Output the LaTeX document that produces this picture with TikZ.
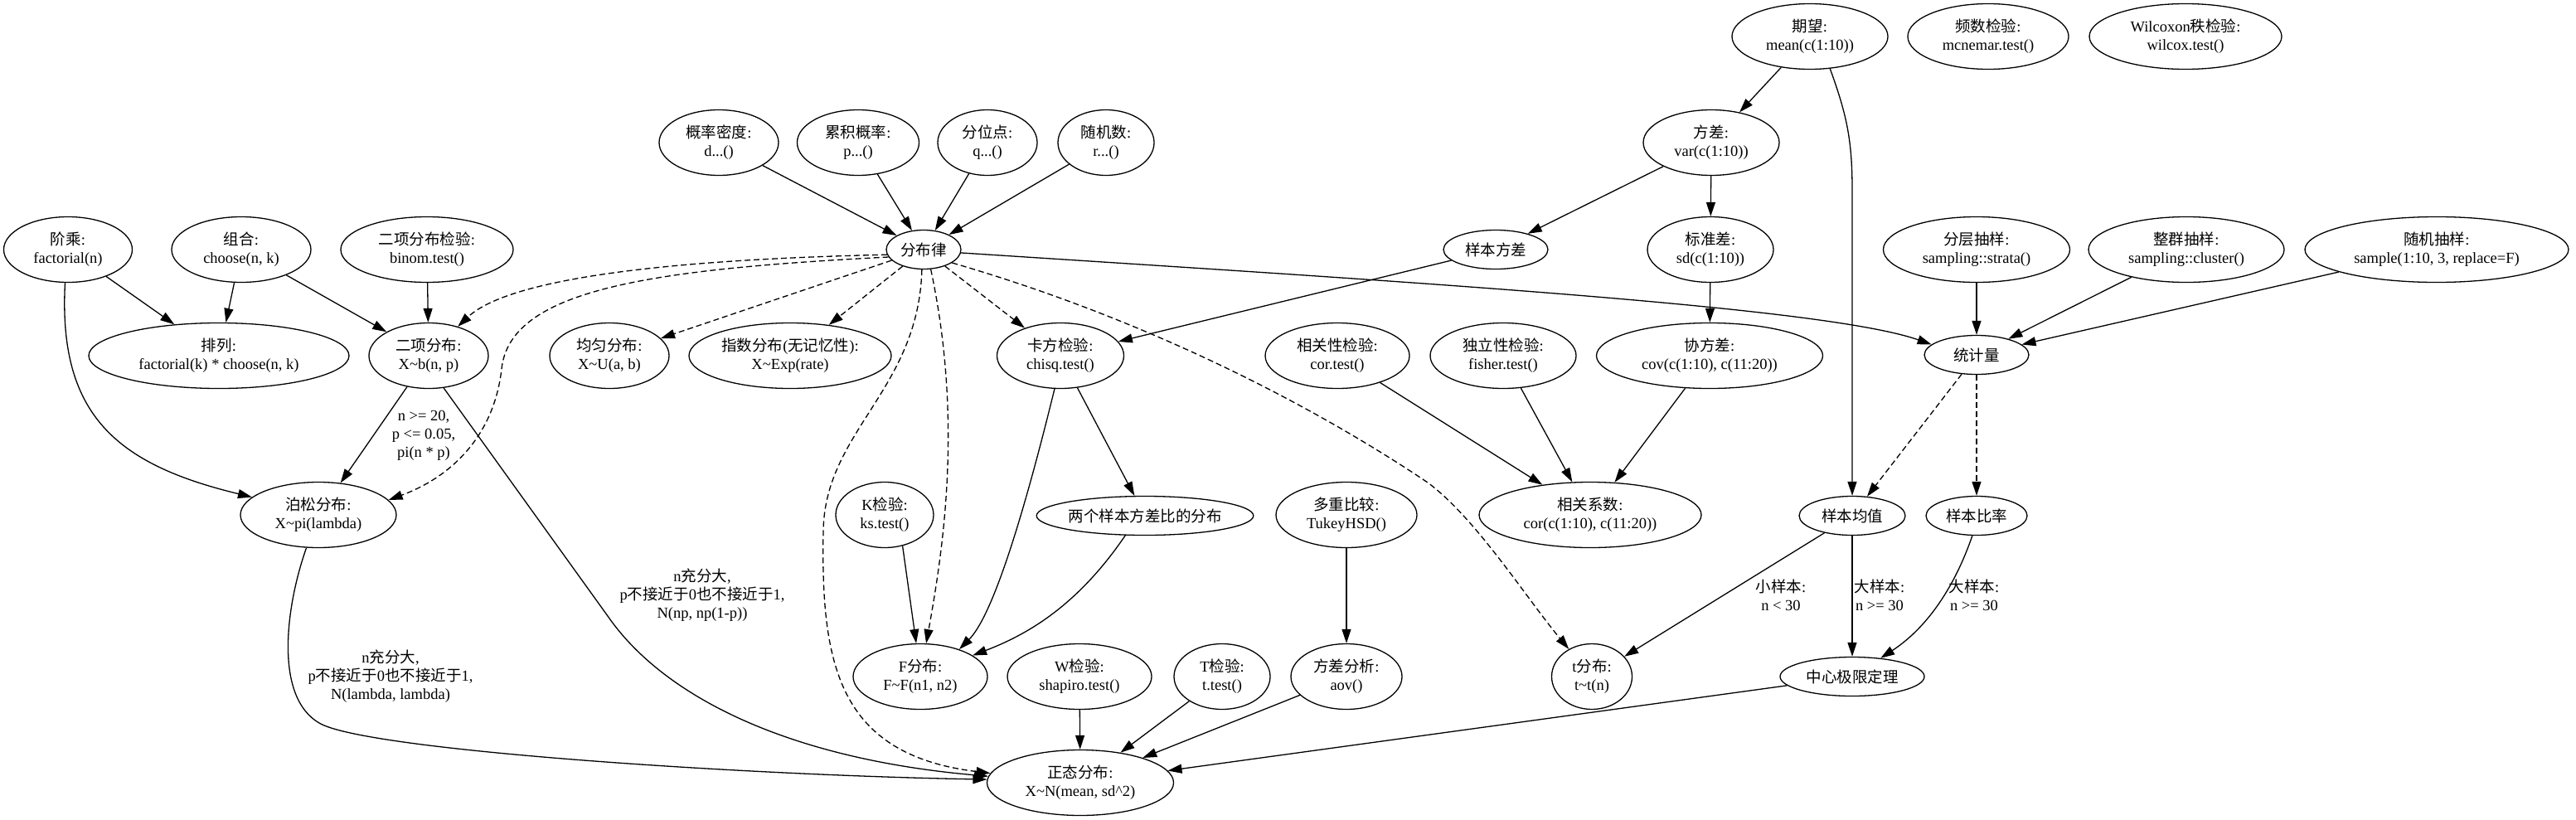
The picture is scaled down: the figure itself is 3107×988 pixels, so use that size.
\documentclass[tikz,border=0pt]{standalone}
\usepackage{fontspec}
\setmainfont{Liberation Serif}
\newfontfamily\zhfont{Noto Sans CJK SC}
\newcommand\zhtxt[1]{{\zhfont #1}}
\newcommand\tld{\char"7E\relax}
\usetikzlibrary{shapes.geometric,arrows.meta}
\tikzset{
  nd/.style={draw, ellipse, inner sep=0pt, align=center, line width=1.3pt},
  e2/.style={nd, minimum height=79pt},
  e1/.style={nd, minimum height=47pt},
  lbl/.style={align=center, inner sep=0pt},
  ar/.style={-{Triangle[length=17pt,width=11pt]}, line width=1.3pt},
  da/.style={ar, dash pattern=on 7pt off 4pt},
}
\begin{document}
\begin{tikzpicture}[x=1pt,y=-1pt,font=\fontsize{18.5}{22}\selectfont]
\fill[white] (0,0) rectangle (3107,988);
\useasboundingbox (0,0) rectangle (3107,988);
% nodes
\node[e2,minimum width=155pt] (jc) at (82,301) {\zhtxt{阶乘}:\\factorial(n)};
\node[e2,minimum width=168pt] (zu) at (291,301) {\zhtxt{组合}:\\choose(n, k)};
\node[e2,minimum width=208pt] (bt) at (515,301) {\zhtxt{二项分布检验}:\\binom.test()};
\node[e2,minimum width=314pt] (pl) at (264,429) {\zhtxt{排列}:\\factorial(k) * choose(n, k)};
\node[e2,minimum width=144pt] (bn) at (517,429) {\zhtxt{二项分布}:\\X\tld b(n, p)};
\node[e2,minimum width=144pt] (un) at (735,429) {\zhtxt{均匀分布}:\\X\tld U(a, b)};
\node[e2,minimum width=244pt] (ex) at (953,429) {\zhtxt{指数分布}(\zhtxt{无记忆性}):\\X\tld Exp(rate)};
\node[e2,minimum width=153pt] (cs) at (1279,429) {\zhtxt{卡方检验}:\\chisq.test()};
\node[e2,minimum width=144pt] (pd) at (867,172) {\zhtxt{概率密度}:\\d...()};
\node[e2,minimum width=147pt] (cp) at (1035,172) {\zhtxt{累积概率}:\\p...()};
\node[e2,minimum width=120pt] (qt) at (1191,172) {\zhtxt{分位点}:\\q...()};
\node[e2,minimum width=116pt] (rn) at (1334,172) {\zhtxt{随机数}:\\r...()};
\node[e1,minimum width=90pt] (fb) at (1114,301) {\zhtxt{分布律}};
\node[e2,minimum width=188pt] (ps) at (384,621) {\zhtxt{泊松分布}:\\X\tld pi(lambda)};
\node[e2,minimum width=118pt] (ks) at (1067,621) {K\zhtxt{检验}:\\ks.test()};
\node[e1,minimum width=260pt] (vr) at (1381,622) {\zhtxt{两个样本方差比的分布}};
\node[e2,minimum width=162pt] (ff) at (1110,816) {F\zhtxt{分布}:\\F\tld F(n1, n2)};
\node[e2,minimum width=174pt] (wt) at (1302,816) {W\zhtxt{检验}:\\shapiro.test()};
\node[e2,minimum width=116pt] (tt) at (1474,816) {T\zhtxt{检验}:\\t.test()};
\node[e2,minimum width=225pt] (nm) at (1303,944) {\zhtxt{正态分布}:\\X\tld N(mean, sd\char"5E\relax 2)};
\node[e2,minimum width=188pt] (ev) at (2183,44) {\zhtxt{期望}:\\mean(c(1:10))};
\node[e2,minimum width=194pt] (mc) at (2398,44) {\zhtxt{频数检验}:\\mcnemar.test()};
\node[e2,minimum width=232pt] (wc) at (2636,44) {Wilcoxon\zhtxt{秩检验}:\\wilcox.test()};
\node[e2,minimum width=164pt] (va) at (2064,172) {\zhtxt{方差}:\\var(c(1:10))};
\node[e1,minimum width=126pt] (sv) at (1804,301) {\zhtxt{样本方差}};
\node[e2,minimum width=152pt] (sd) at (2063,301) {\zhtxt{标准差}:\\sd(c(1:10))};
\node[e2,minimum width=225pt] (st) at (2384,301) {\zhtxt{分层抽样}:\\sampling::strata()};
\node[e2,minimum width=236pt] (cl) at (2637,301) {\zhtxt{整群抽样}:\\sampling::cluster()};
\node[e2,minimum width=318pt] (rs) at (2939,301) {\zhtxt{随机抽样}:\\sample(1:10, 3, replace=F)};
\node[e2,minimum width=174pt] (ct) at (1613,429) {\zhtxt{相关性检验}:\\cor.test()};
\node[e2,minimum width=176pt] (it) at (1813,429) {\zhtxt{独立性检验}:\\fisher.test()};
\node[e2,minimum width=273pt] (cv) at (2062,429) {\zhtxt{协方差}:\\cov(c(1:10), c(11:20))};
\node[e1,minimum width=126pt] (sq) at (2384,428) {\zhtxt{统计量}};
\node[e2,minimum width=170pt] (mu) at (1624,621) {\zhtxt{多重比较}:\\TukeyHSD()};
\node[e2,minimum width=268pt] (cc) at (1918,621) {\zhtxt{相关系数}:\\cor(c(1:10), c(11:20))};
\node[e1,minimum width=128pt] (sm) at (2234,622) {\zhtxt{样本均值}};
\node[e1,minimum width=122pt] (sr) at (2384,622) {\zhtxt{样本比率}};
\node[e2,minimum width=134pt] (av) at (1624,816) {\zhtxt{方差分析}:\\aov()};
\node[e2,minimum width=97pt] (td) at (1920,816) {t\zhtxt{分布}:\\t\tld t(n)};
\node[e1,minimum width=174pt] (lt) at (2234,816) {\zhtxt{中心极限定理}};
% edge labels
\node[lbl] (l1) at (511,525) {n >= 20,\\p <= 0.05,\\pi(n * p)};
\node[lbl] (l2) at (847,718) {n\zhtxt{充分大},\\p\zhtxt{不接近于}0\zhtxt{也不接近于}1,\\N(np, np(1-p))};
\node[lbl] (l3) at (471,816) {n\zhtxt{充分大},\\p\zhtxt{不接近于}0\zhtxt{也不接近于}1,\\N(lambda, lambda)};
\node[lbl] (l4) at (2148,718) {\zhtxt{小样本}:\\n < 30};
\node[lbl] (l5) at (2267,718) {\zhtxt{大样本}:\\n >= 30};
\node[lbl] (l6) at (2381,718) {\zhtxt{大样本}:\\n >= 30};
% straight edges
\draw[ar] (pd) -- (fb);
\draw[ar] (cp) -- (fb);
\draw[ar] (qt) -- (fb);
\draw[ar] (rn) -- (fb);
\draw[ar] (jc) -- (pl);
\draw[ar] (zu) -- (pl);
\draw[ar] (zu) -- (bn);
\draw[ar] (bt) -- (bn);
\draw[ar] (bn) -- (ps);
\draw[da] (fb) -- (un);
\draw[da] (fb) -- (ex);
\draw[da] (fb) -- (cs);
\draw[ar] (sv) -- (cs);
\draw[ar] (cs) -- (vr);
\draw[ar] (ks.300) -- (ff.97);
\draw[ar] (wt) -- (nm);
\draw[ar] (tt) -- (nm);
\draw[ar] (av) -- (nm);
\draw[ar] (lt) -- (nm);
\draw[ar] (mu) -- (av);
\draw[ar] (ct) -- (cc);
\draw[ar] (it) -- (cc);
\draw[ar] (cv) -- (cc);
\draw[ar] (ev) -- (va);
\draw[ar] (va) -- (sv);
\draw[ar] (va) -- (sd);
\draw[ar] (sd) -- (cv);
\draw[ar] (st) -- (sq);
\draw[ar] (cl) -- (sq);
\draw[ar] (rs) -- (sq);
\draw[da] (sq) -- (sm);
\draw[da] (sq) -- (sr);
\draw[ar] (sm) -- (td);
\draw[ar] (sm) -- (lt);
% curved edges
\draw[ar] (jc.265) .. controls (70,500) and (140,560) .. (ps.165);
\draw[da] (fb.188) .. controls (850,312) and (620,330) .. (bn.45);
\draw[da] (fb.192) .. controls (780,325) and (615,350) .. (605,445) .. controls (596,525) and (545,575) .. (ps.12);
\draw[da] (fb.290) .. controls (1160,500) and (1140,650) .. (ff.80);
\draw[da] (fb.265) .. controls (1108,470) and (995,520) .. (993,640) .. controls (990,800) and (1010,910) .. (nm.174);
\draw[da] (fb.335) .. controls (1400,390) and (1600,500) .. (1722,582) .. controls (1780,625) and (1840,720) .. (td.130);
\draw[ar] (fb.355) .. controls (1700,340) and (2200,370) .. (sq.167);
\draw[ar] (bn.295) -- (733,743) .. controls (800,840) and (950,915) .. (nm.176);
\draw[ar] (ps.250) .. controls (345,730) and (330,840) .. (385,872) .. controls (440,905) and (900,935) .. (nm.178);
\draw[ar] (cs.260) .. controls (1230,640) and (1195,745) .. (ff.35);
\draw[ar] (vr.225) .. controls (1300,730) and (1240,765) .. (ff.22);
\draw[ar] (ev.302) .. controls (2228,140) and (2234,170) .. (2234,230) -- (sm.north);
\draw[ar] (sr.258) .. controls (2355,715) and (2320,760) .. (lt.33);
\end{tikzpicture}
\end{document}
